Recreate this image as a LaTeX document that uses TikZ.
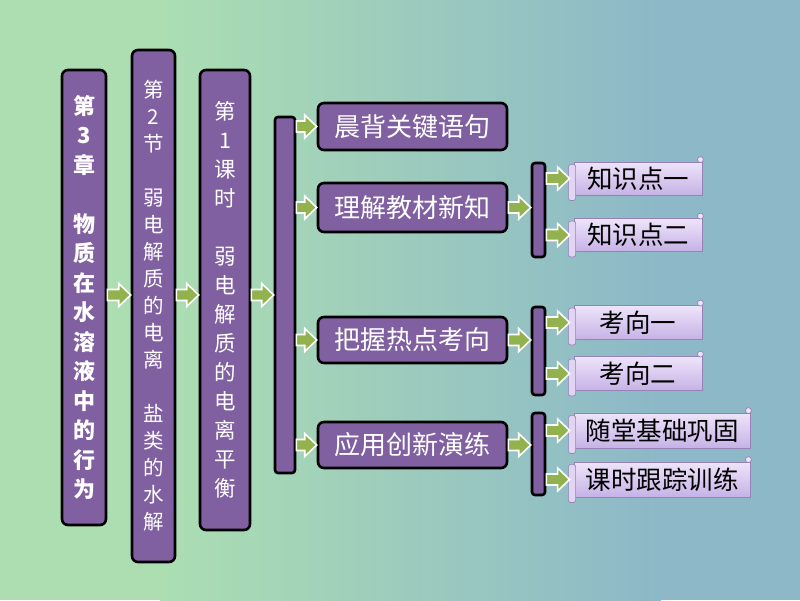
\documentclass[tikz,border=0pt]{standalone}
\usepackage{fontspec}
\newfontfamily\cjk{Noto Sans CJK SC}
\usetikzlibrary{calc}
\definecolor{bgl}{RGB}{172,222,178}
\definecolor{bgr}{RGB}{140,184,200}
\definecolor{boxpurple}{RGB}{128,96,160}
\definecolor{arrowgreen}{RGB}{146,178,78}
\definecolor{leaftop}{RGB}{238,228,250}
\definecolor{leafbot}{RGB}{198,178,230}
\definecolor{leafborder}{RGB}{150,130,182}
\tikzset{
  bigbox/.style={draw=black, line width=2.6pt, fill=boxpurple, rounded corners=6pt,
    text=white, inner sep=0pt, align=center},
  barbox/.style={draw=black, line width=2.6pt, fill=boxpurple, rounded corners=3pt, inner sep=0pt},
  midbox/.style={bigbox, minimum width=189pt, font=\cjk\fontsize{26}{26}\selectfont},
  leafbox/.style={draw=leafborder, line width=0.8pt, top color=leaftop, bottom color=leafbot,
    inner sep=0pt, text=black, font=\cjk\fontsize{25.5}{25.5}\selectfont},
  arrowstyle/.style={fill=arrowgreen, draw=white, line width=1.6pt, line join=miter},
}
\newcommand\blkarrow[2]{%
  \filldraw[arrowstyle] let \p1=#1, \p2=#2 in
  (\x1,\y1+5.5pt) -- (\x2-12pt,\y1+5.5pt) -- (\x2-12pt,\y1+11.5pt) -- (\x2,\y1)
  -- (\x2-12pt,\y1-11.5pt) -- (\x2-12pt,\y1-5.5pt) -- (\x1,\y1-5.5pt) -- cycle;}
\newcommand\scrolldeco[1]{%
  \filldraw[draw=leafborder, line width=0.7pt, fill=leaftop!70!leafbot, rounded corners=2pt]
    ($(#1.north west)+(-5,3)$) rectangle ($(#1.south west)+(2,5)$);
  \filldraw[draw=leafborder, line width=0.7pt, fill=leaftop]
    ($(#1.north east)+(-2,-2)$) circle (3pt);}
\begin{document}
\begin{tikzpicture}[x=1pt,y=-1pt]
\useasboundingbox (0,0) rectangle (800,600);
\fill[bgl] (0,0) rectangle (161,600);
\shade[left color=bgl, right color=bgr] (160,0) rectangle (661,600);
\fill[bgr] (660,0) rectangle (800,600);
\coordinate (mid) at (0,295);
% vertical boxes
\node[bigbox, minimum width=44pt, minimum height=455pt,
  font=\cjk\bfseries\fontsize{22}{29.5}\selectfont] (b1) at (84,297.5)
  {第\\3\\章\\\mbox{}\\物\\质\\在\\水\\溶\\液\\中\\的\\行\\为};
\node[bigbox, minimum width=43pt, minimum height=512pt,
  font=\cjk\fontsize{20.5}{27}\selectfont] (b2) at (153.5,306)
  {第\\2\\节\\\mbox{}\\弱\\电\\解\\质\\的\\电\\离\\\mbox{}\\盐\\类\\的\\水\\解};
\node[bigbox, minimum width=50pt, minimum height=460pt,
  font=\cjk\fontsize{21.5}{29}\selectfont] (b3) at (225,300)
  {第\\1\\课\\时\\\mbox{}\\弱\\电\\解\\质\\的\\电\\离\\平\\衡};
\node[barbox, minimum width=20pt, minimum height=356pt] (bar) at (285,295) {};
% middle boxes
\node[midbox, minimum height=47pt] (m1) at (412.5,126.5) {晨背关键语句};
\node[midbox, minimum height=49pt] (m2) at (412.5,207.5) {理解教材新知};
\node[midbox, minimum height=46pt] (m3) at (412.5,340) {把握热点考向};
\node[midbox, minimum height=46pt] (m4) at (412.5,445) {应用创新演练};
% right bars
\node[barbox, minimum width=13pt, minimum height=94pt] (r2) at (538.5,210) {};
\node[barbox, minimum width=13pt, minimum height=88pt] (r3) at (538.5,351) {};
\node[barbox, minimum width=13pt, minimum height=82pt] (r4) at (538.5,454) {};
% leaves
\node[leafbox, minimum width=128pt, minimum height=33pt] (l1) at (638,178.5) {知识点一};
\node[leafbox, minimum width=128pt, minimum height=33pt] (l2) at (638,235) {知识点二};
\node[leafbox, minimum width=128pt, minimum height=34pt] (l3) at (638,322.5) {考向一};
\node[leafbox, minimum width=128pt, minimum height=34pt] (l4) at (638,373.5) {考向二};
\node[leafbox, minimum width=176pt, minimum height=35pt] (l5) at (662,430.5) {随堂基础巩固};
\node[leafbox, minimum width=176pt, minimum height=35pt] (l6) at (662,479.5) {课时跟踪训练};
\foreach \l in {l1,l2,l3,l4,l5,l6} {\scrolldeco{\l}}
% arrows
\blkarrow{(b1.east |- mid)}{(b2.west |- mid)}
\blkarrow{(b2.east |- mid)}{(b3.west |- mid)}
\blkarrow{(b3.east |- mid)}{(bar.west |- mid)}
\blkarrow{(bar.east |- m1.west)}{(m1.west)}
\blkarrow{(bar.east |- m2.west)}{(m2.west)}
\blkarrow{(bar.east |- m3.west)}{(m3.west)}
\blkarrow{(bar.east |- m4.west)}{(m4.west)}
\blkarrow{(m2.east)}{(r2.west |- m2.east)}
\blkarrow{(m3.east)}{(r3.west |- m3.east)}
\blkarrow{(m4.east)}{(r4.west |- m4.east)}
\blkarrow{(r2.east |- l1.west)}{($(l1.west)+(-4,0)$)}
\blkarrow{(r2.east |- l2.west)}{($(l2.west)+(-4,0)$)}
\blkarrow{(r3.east |- l3.west)}{($(l3.west)+(-4,0)$)}
\blkarrow{(r3.east |- l4.west)}{($(l4.west)+(-4,0)$)}
\blkarrow{(r4.east |- l5.west)}{($(l5.west)+(-4,0)$)}
\blkarrow{(r4.east |- l6.west)}{($(l6.west)+(-4,0)$)}
\end{tikzpicture}
\end{document}
